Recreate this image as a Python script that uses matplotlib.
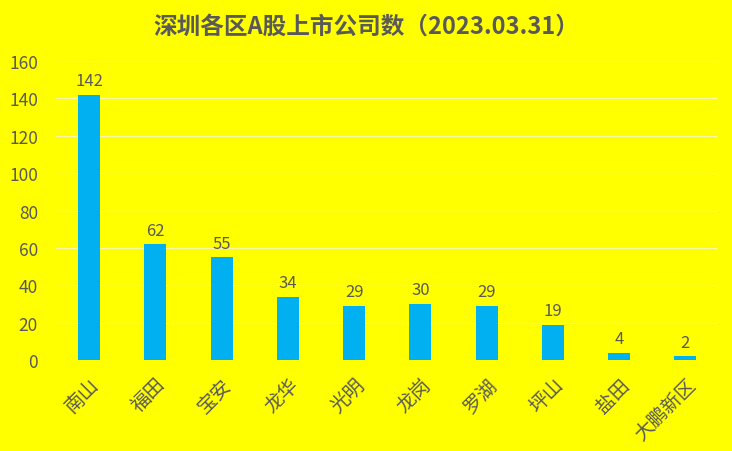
import numpy as np
import matplotlib.pyplot as plt

plt.rcParams['font.family'] = ['Noto Sans CJK SC', 'DejaVu Sans']

districts = ['南山', '福田', '宝安', '龙华', '光明', '龙岗', '罗湖', '坪山', '盐田', '大鹏新区']
counts = [142, 62, 55, 34, 29, 30, 29, 19, 4, 2]

bg = '#FFFF00'
txt = '#595959'

fig = plt.figure(figsize=(7.32, 4.52), dpi=100, facecolor=bg)
ax = fig.add_axes([0.0765, 0.201, 0.905, 0.662])
ax.set_facecolor(bg)

x = np.arange(len(districts))
ax.bar(x, counts, width=0.33, color='#00B0F0', zorder=3)
for xi, v in zip(x, counts):
    ax.text(xi, v + 3, str(v), ha='center', va='bottom', fontsize=12, color=txt)

ax.set_xlim(-0.5, len(districts) - 0.5)
ax.set_ylim(0, 160)
ax.set_yticks(range(0, 161, 20))
ax.grid(axis='y', color='#F7F7A8', lw=0.8, zorder=0)
for s in ax.spines.values():
    s.set_visible(False)
ax.tick_params(length=0, labelsize=12.5, colors=txt)
ax.tick_params(axis='y', pad=13)
ax.tick_params(axis='x', pad=10)
ax.set_xticks(x)
ax.set_xticklabels(districts, rotation=45, ha='right', rotation_mode='anchor',
                   fontsize=14, color=txt, fontweight='light')

fig.suptitle('深圳各区A股上市公司数（2023.03.31）', y=0.968, fontsize=17,
             fontweight='bold', color=txt)

fig.savefig('out.png', dpi=100, facecolor=bg)
